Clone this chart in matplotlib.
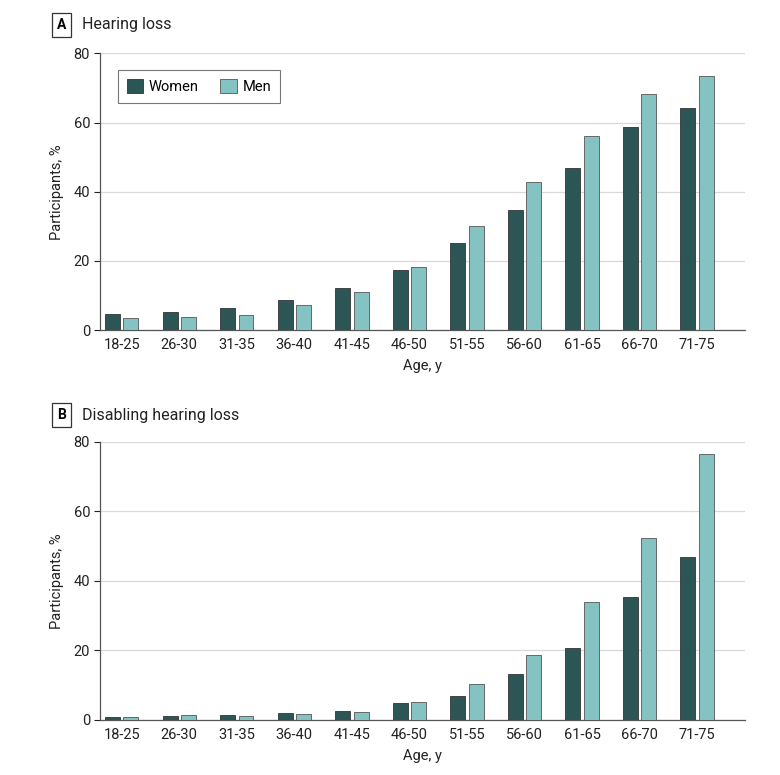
import numpy as np
import matplotlib.pyplot as plt

plt.rcParams['font.family'] = ['Roboto', 'DejaVu Sans']

ages = ['18-25', '26-30', '31-35', '36-40', '41-45', '46-50',
        '51-55', '56-60', '61-65', '66-70', '71-75']

# panel A: hearing loss, %
hl_women = [4.8, 5.2, 6.5, 8.8, 12.2, 17.4, 25.3, 34.7, 46.8, 58.7, 64.1]
hl_men = [3.5, 3.7, 4.5, 7.2, 11.0, 18.4, 30.0, 42.9, 56.1, 68.2, 73.5]

# panel B: disabling hearing loss, %
dhl_women = [0.8, 1.2, 1.3, 2.1, 2.7, 4.8, 6.8, 13.3, 20.7, 35.4, 47.0]
dhl_men = [0.9, 1.3, 1.2, 1.7, 2.4, 5.3, 10.4, 18.6, 33.8, 52.4, 76.4]

women_col = '#2b5655'
men_col = '#84c3c2'
edge_col = '#555555'

fig = plt.figure(figsize=(7.8, 7.75), dpi=100)
axA = fig.add_axes([0.128, 0.574, 0.827, 0.357])
axB = fig.add_axes([0.128, 0.071, 0.827, 0.359])


def draw_panel(ax, women, men, letter, title, ty, legend=False):
    x = np.arange(len(ages))
    w = 0.26
    ax.bar(x - 0.16, women, w, color=women_col, edgecolor='#333333',
           linewidth=0.6, label='Women', zorder=3)
    ax.bar(x + 0.16, men, w, color=men_col, edgecolor=edge_col,
           linewidth=0.6, label='Men', zorder=3)
    ax.set_xlim(-0.38, 10.83)
    ax.set_ylim(0, 80)
    ax.set_yticks([0, 20, 40, 60, 80])
    ax.set_xticks(x)
    ax.set_xticklabels(ages)
    ax.tick_params(axis='x', length=0, labelsize=10.5, pad=6, colors='#222222')
    ax.tick_params(axis='y', length=4, width=0.8, labelsize=10.5,
                   colors='#222222', pad=3)
    ax.yaxis.grid(True, color='#d9d9d9', linewidth=0.9, zorder=0)
    ax.set_axisbelow(True)
    for s in ['top', 'right']:
        ax.spines[s].set_visible(False)
    for s in ['left', 'bottom']:
        ax.spines[s].set_color('#555555')
        ax.spines[s].set_linewidth(0.9)
    ax.set_ylabel('Participants, %', fontsize=10.5, color='#222222', labelpad=7)
    ax.set_xlabel('Age, y', fontsize=10.5, color='#222222', labelpad=5)
    # panel letter in a box plus title
    ax.text(-0.059, ty, letter, transform=ax.transAxes, fontsize=10,
            fontweight='bold', ha='center', va='center',
            bbox=dict(boxstyle='square,pad=0.35', facecolor='white',
                      edgecolor='#333333', linewidth=0.9))
    ax.text(-0.028, ty, title, transform=ax.transAxes, fontsize=11.5,
            ha='left', va='center', color='#222222')
    if legend:
        leg = ax.legend(loc='upper left', bbox_to_anchor=(0.028, 0.94),
                        borderaxespad=0, ncol=2, frameon=True, fancybox=False,
                        fontsize=10.5, handlelength=1.15, handleheight=1.15,
                        columnspacing=1.5, borderpad=0.6, handletextpad=0.35)
        leg.get_frame().set_edgecolor('#555555')
        leg.get_frame().set_linewidth(0.8)


draw_panel(axA, hl_women, hl_men, 'A', 'Hearing loss', 1.104, legend=True)
draw_panel(axB, dhl_women, dhl_men, 'B', 'Disabling hearing loss', 1.095)

fig.savefig('out.png', dpi=100)
